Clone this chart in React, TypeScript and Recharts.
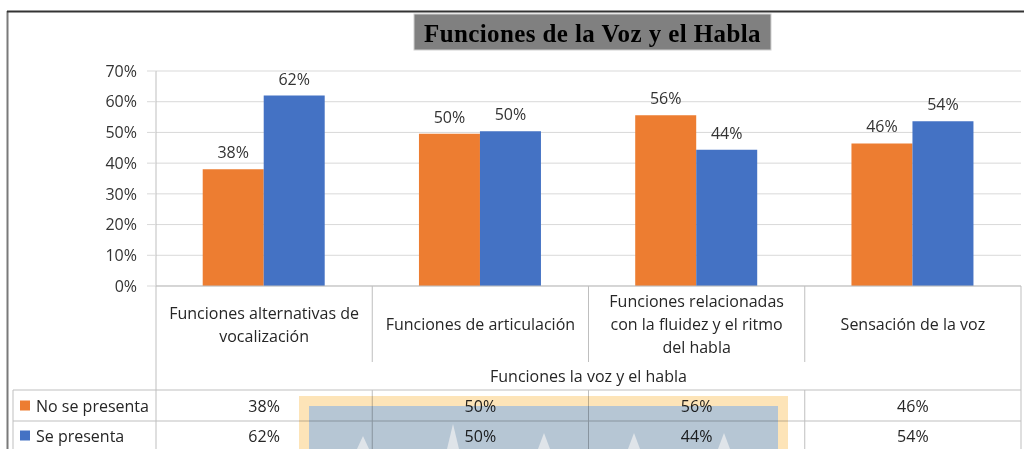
import React from "react";
import { BarChart, Bar, XAxis, YAxis, CartesianGrid, LabelList } from "recharts";

const chartTitle = "Funciones de la Voz y el Habla";
const axisTitle = "Funciones la voz y el habla";
const categories = [
  "Funciones alternativas de vocalización",
  "Funciones de articulación",
  "Funciones relacionadas con la fluidez y el ritmo del habla",
  "Sensación de la voz",
];
const categoryLines = [
  ["Funciones alternativas de", "vocalización"],
  ["Funciones de articulación"],
  ["Funciones relacionadas", "con la fluidez y el ritmo", "del habla"],
  ["Sensación de la voz"],
];
const seriesNames = ["No se presenta", "Se presenta"];
const noSePresenta = [38, 49.6, 55.6, 46.4];
const sePresenta = [62, 50.4, 44.4, 53.6];
const yTicks = [0, 10, 20, 30, 40, 50, 60, 70];

const ORANGE = "#ED7D31";
const BLUE = "#4472C4";
const TABLE_LINE = "#bfbfbf";
const TEXT = "#262626";
const FONT = "'Open Sans', sans-serif";

const data = categories.map((c, i) => ({ cat: c, no: noSePresenta[i], si: sePresenta[i] }));

const W = 1024;
const H = 449;
const PLOT_LEFT = 156;
const PLOT_RIGHT = 1021;
const PLOT_TOP = 71;
const PLOT_BOTTOM = 286;
const BAND = (PLOT_RIGHT - PLOT_LEFT) / categories.length;
const LEGEND_LEFT = 13;

const fmt = (v: any) => `${Math.round(Number(v))}%`;

const CategoryTick = (props: any) => {
  const { x, y, payload } = props;
  const i = payload.index;
  const half = BAND / 2;
  const left = x - half;
  const right = x + half;
  const lines = categoryLines[i];
  const lineH = 23;
  const cy = y + 38;
  const startY = cy - ((lines.length - 1) * lineH) / 2;
  const isFirst = i === 0;
  const isLast = i === categories.length - 1;
  const row1 = y + 119.5;
  const row2 = y + 149.5;
  return (
    <g>
      {lines.map((t, k) => (
        <text
          key={k}
          x={x}
          y={startY + k * lineH}
          textAnchor="middle"
          dominantBaseline="central"
          fontFamily={FONT}
          fontSize={16}
          fill={TEXT}
        >
          {t}
        </text>
      ))}
      {isFirst && <line x1={left} x2={left} y1={y} y2={y + 163} stroke={TABLE_LINE} strokeWidth={1} />}
      {isLast ? (
        <line x1={right} x2={right} y1={y} y2={y + 163} stroke={TABLE_LINE} strokeWidth={1} />
      ) : (
        <>
          <line x1={right} x2={right} y1={y} y2={y + 76} stroke={TABLE_LINE} strokeWidth={1} />
          <line x1={right} x2={right} y1={y + 104} y2={y + 163} stroke={TABLE_LINE} strokeWidth={1} />
        </>
      )}
      <text x={x} y={row1} textAnchor="middle" dominantBaseline="central" fontFamily={FONT} fontSize={16} fill={TEXT}>
        {fmt(noSePresenta[i])}
      </text>
      <text x={x} y={row2} textAnchor="middle" dominantBaseline="central" fontFamily={FONT} fontSize={16} fill={TEXT}>
        {fmt(sePresenta[i])}
      </text>
      {isFirst && (
        <g>
          <text
            x={left + (BAND * categories.length) / 2}
            y={y + 90}
            textAnchor="middle"
            dominantBaseline="central"
            fontFamily={FONT}
            fontSize={16}
            fill={TEXT}
          >
            {axisTitle}
          </text>
          <line x1={LEGEND_LEFT} x2={left + BAND * categories.length} y1={y + 104} y2={y + 104} stroke={TABLE_LINE} strokeWidth={1} />
          <line x1={LEGEND_LEFT} x2={left + BAND * categories.length} y1={y + 135} y2={y + 135} stroke={TABLE_LINE} strokeWidth={1} />
          <line x1={LEGEND_LEFT} x2={LEGEND_LEFT} y1={y + 104} y2={y + 163} stroke={TABLE_LINE} strokeWidth={1} />
          <rect x={20} y={row1 - 5} width={10} height={10} fill={ORANGE} />
          <text x={36} y={row1} dominantBaseline="central" fontFamily={FONT} fontSize={16} fill={TEXT}>
            {seriesNames[0]}
          </text>
          <rect x={20} y={row2 - 5} width={10} height={10} fill={BLUE} />
          <text x={36} y={row2} dominantBaseline="central" fontFamily={FONT} fontSize={16} fill={TEXT}>
            {seriesNames[1]}
          </text>
        </g>
      )}
    </g>
  );
};

export default function App() {
  return (
    <div style={{ position: "absolute", left: 0, top: 0, width: W, height: H, background: "#fff", overflow: "hidden" }}>
      <BarChart
        width={W}
        height={H}
        data={data}
        margin={{ top: PLOT_TOP, right: W - PLOT_RIGHT, bottom: 0, left: 0 }}
        barCategoryGap="21.6%"
        barGap={0}
      >
        <CartesianGrid vertical={false} stroke="#d9d9d9" strokeWidth={1} />
        <YAxis
          width={PLOT_LEFT}
          domain={[0, 70]}
          ticks={yTicks}
          tickFormatter={(v: number) => `${v}%`}
          axisLine={{ stroke: TABLE_LINE }}
          tickLine={{ stroke: "#d9d9d9" }}
          tickSize={9}
          tickMargin={10}
          interval={0}
          tick={{ fontFamily: FONT, fontSize: 16, fill: "#333" }}
        />
        <XAxis
          dataKey="cat"
          height={H - PLOT_BOTTOM}
          axisLine={{ stroke: TABLE_LINE }}
          tickLine={false}
          tickSize={0}
          tickMargin={0}
          interval={0}
          tick={<CategoryTick />}
        />
        <Bar dataKey="no" name={seriesNames[0]} fill={ORANGE} isAnimationActive={false}>
          <LabelList dataKey="no" position="top" offset={11} formatter={fmt} fontFamily={FONT} fontSize={16} fill="#333" />
        </Bar>
        <Bar dataKey="si" name={seriesNames[1]} fill={BLUE} isAnimationActive={false}>
          <LabelList dataKey="si" position="top" offset={11} formatter={fmt} fontFamily={FONT} fontSize={16} fill="#333" />
        </Bar>
      </BarChart>
      <svg
        width={W}
        height={H}
        style={{ position: "absolute", left: 0, top: 0, pointerEvents: "none" }}
      >
        <line x1={7.5} x2={7.5} y1={11} y2={H} stroke="#7a7a7a" strokeWidth={2} />
        <line x1={7} x2={W} y1={11.5} y2={11.5} stroke="#333" strokeWidth={2} />
        <rect x={414} y={14} width={357} height={36} fill="#808080" stroke="#d0d0d0" strokeWidth={1} />
        <text
          x={592.5}
          y={41.5}
          textAnchor="middle"
          fontFamily="'Liberation Serif', 'Times New Roman', serif"
          fontWeight="bold"
          fontSize={25}
          letterSpacing={0.4}
          fill="#000"
        >
          {chartTitle}
        </text>
        <g style={{ mixBlendMode: "multiply" }}>
          <rect x={299} y={396} width={489} height={60} fill="#fde4b8" />
          <rect x={309} y={406} width={469} height={50} fill="#b6c6d4" />
          <polygon points="357,449 363,436 369,449" fill="#dfe4e9" />
          <polygon points="447,449 453,424 459,449" fill="#dfe4e9" />
          <polygon points="538,449 544,433 550,449" fill="#dfe4e9" />
          <polygon points="628,449 634,433 640,449" fill="#dfe4e9" />
          <polygon points="718,449 724,433 730,449" fill="#dfe4e9" />
        </g>
      </svg>
    </div>
  );
}
